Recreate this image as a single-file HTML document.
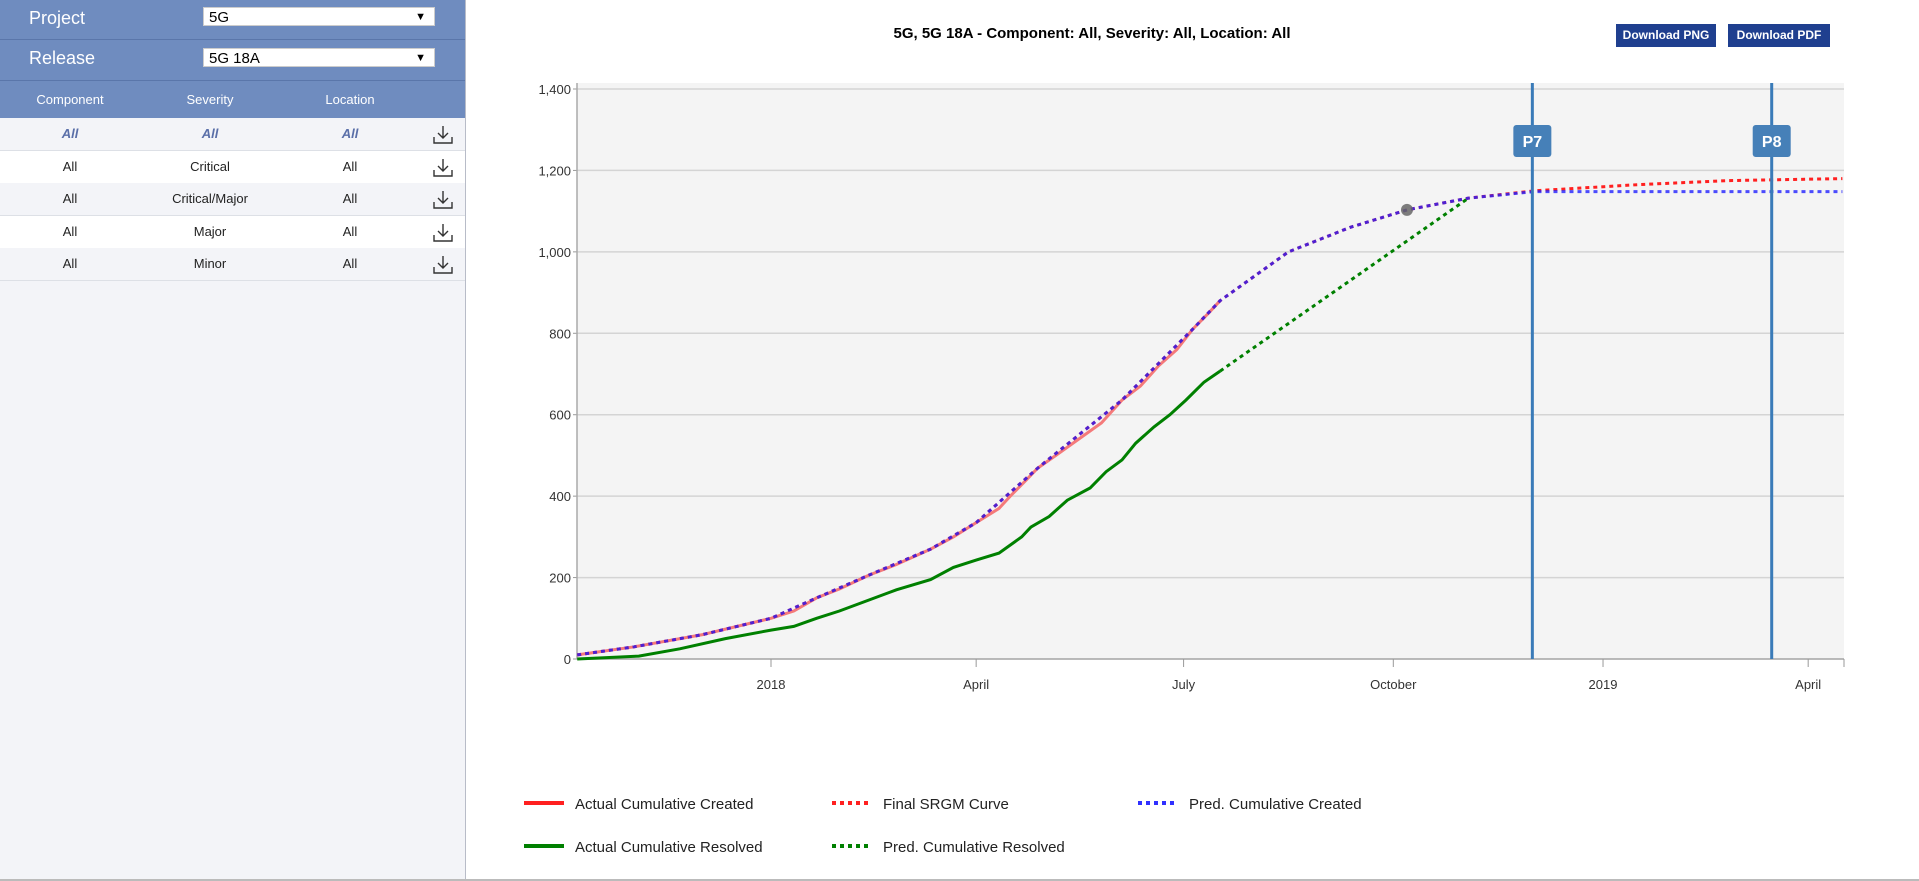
<!DOCTYPE html>
<html><head><meta charset="utf-8"><style>
body{margin:0;width:1919px;height:881px;overflow:hidden;background:#fff;font-family:"Liberation Sans",sans-serif;position:relative}
#side{position:absolute;left:0;top:0;width:465px;height:879px;background:#f3f4f8;border-right:1px solid #b8bcc8}
.hrow{position:absolute;left:0;width:465px;background:#6f8cbf;color:#fff}
.lbl{position:absolute;left:29px;font-size:18px}
.sel{position:absolute;left:203px;height:19px;background:#fff;border:1px solid #ccc;color:#000;font-size:15px;line-height:19px;padding-left:5px;box-sizing:border-box;width:232px}
.sel span{position:absolute;right:8px;top:0;font-size:11px}
.row{position:absolute;left:0;width:465px;height:32px;border-bottom:1px solid #dde0e6;font-size:13px;color:#222}
.c{position:absolute;top:0;line-height:32px;text-align:center;width:140px}
.ic{position:absolute;left:432px;top:7px}
.btn{position:absolute;top:24px;height:23px;background:#1f3f8f;color:#fff;font-size:12px;font-weight:bold;line-height:23px;text-align:center}
</style></head><body>
<div id="side">
 <div class="hrow" style="top:0;height:39px;border-bottom:1px solid #5a76aa">
  <div class="lbl" style="top:8px">Project</div>
  <div class="sel" style="top:7px">5G<span>▼</span></div></div>
 <div class="hrow" style="top:40px;height:40px;border-bottom:1px solid #5a76aa">
  <div class="lbl" style="top:8px">Release</div>
  <div class="sel" style="top:8px">5G 18A<span>▼</span></div></div>
 <div class="hrow" style="top:81px;height:37px;font-size:13px">
  <div class="c" style="left:0;line-height:37px">Component</div>
  <div class="c" style="left:140px;line-height:37px">Severity</div>
  <div class="c" style="left:280px;line-height:37px">Location</div></div>
 <div id="rows"></div>
</div>
<div style="position:absolute;left:0;top:879px;width:1919px;height:2px;background:#bbb"></div>
<div style="position:absolute;left:800px;width:584px;top:25px;text-align:center;font-size:15px;font-weight:bold">5G, 5G 18A - Component: All, Severity: All, Location: All</div>
<div class="btn" style="left:1616px;width:100px">Download PNG</div>
<div class="btn" style="left:1728px;width:102px">Download PDF</div>
<svg id="chart" width="1919" height="881" style="position:absolute;left:0;top:0"></svg>
<script>
const rowsData=[["All","All","All"],["All","Critical","All"],["All","Critical/Major","All"],["All","Major","All"],["All","Minor","All"]];
const rowsEl=document.getElementById('rows');
rowsData.forEach((r,i)=>{const d=document.createElement('div');d.className='row';d.style.top=(118+i*32.5)+'px';d.style.background=i%2?'#fff':'#f3f4f8';


const st=i==0?'font-style:italic;font-weight:bold;color:#5a6fa8;':'';
d.innerHTML=`<div class="c" style="left:0;${st}">${r[0]}</div><div class="c" style="left:140px;${st}">${r[1]}</div><div class="c" style="left:280px;${st}">${r[2]}</div><svg class="ic" width="22" height="20" viewBox="0 0 22 20"><path d="M11 1v12M6 8l5 5 5-5M2 12v6h18v-6" fill="none" stroke="#333" stroke-width="1.4"/></svg>`;
rowsEl.appendChild(d);});

// data: days since 2018-01-01, values
const createdDays=[-85,-60,-30,0,10,20,30,43,55,70,80,90,100,105,112,117,125,135,145,154,162,170,178,185,192,197];
const createdVals=[10,30,60,100,118,150,172,206,232,270,300,335,370,400,440,469,500,540,580,636,670,720,760,810,850,880];
const resolvedDays=[-85,-58,-40,-20,0,10,20,30,43,55,70,80,90,100,110,114,122,130,140,147,154,160,168,175,182,190,197];
const resolvedVals=[0,7,25,50,71,80,100,118,145,170,195,225,243,260,300,324,350,390,420,460,489,530,570,600,636,680,707];
const srgmDays=[-85,-60,-30,0,20,43,70,90,117,154,185,197,227,254,279,306,335,380,420,470];
const srgmVals=[10,30,60,100,150,206,270,335,469,636,810,880,1000,1060,1103,1132,1150,1165,1175,1180];
const predCreatedDays=[-85,-60,-30,0,20,43,70,90,117,154,185,197,227,254,279,306,335,380,420,470];
const predCreatedVals=[10,30,60,100,150,206,270,335,469,636,810,880,1000,1060,1103,1132,1148,1148,1148,1148];
const predResolvedDays=[197,306];
const predResolvedVals=[707,1132];
const markerDay=279, markerVal=1103;
const yTicks=[0,200,400,600,800,1000,1200,1400];
const yTickLabels=["0","200","400","600","800","1,000","1,200","1,400"];
const xTickDays=[0,90,181,273,365,455];
const xTickLabels=["2018","April","July","October","2019","April"];
const phaseDays=[334,439];
const phaseLabels=["P7","P8"];

const L=577,R=1844,T=83,B=659;
const X=d=>771+d*2.2795;
const Y=v=>659-v*(570/1400);
const svg=document.getElementById('chart');const NS='http://www.w3.org/2000/svg';
function mk(t,a,name,parent){const e=document.createElementNS(NS,t);for(const k in a)e.setAttribute(k,a[k]);


(parent||svg).appendChild(e);return e;}
mk('rect',{x:L,y:T,width:R-L,height:B-T,fill:'#f4f4f4'},'plot-area');
yTicks.forEach((v,i)=>{mk('line',{x1:L,x2:R,y1:Y(v),y2:Y(v),stroke:'#d4d4d4','stroke-width':1.5},'gridline');
mk('line',{x1:L-4,x2:L,y1:Y(v),y2:Y(v),stroke:'#999'},'y-tick');
const t=mk('text',{x:L-6,y:Y(v)+5,'text-anchor':'end','font-size':13,fill:'#333'},'y-tick-label');t.textContent=yTickLabels[i];});
mk('line',{x1:L,x2:L,y1:T,y2:B,stroke:'#aaa','stroke-width':1.5},'y-axis');
mk('line',{x1:L,x2:R,y1:B,y2:B,stroke:'#aaa','stroke-width':1.5},'x-axis');
xTickDays.forEach((d,i)=>{mk('line',{x1:X(d),x2:X(d),y1:B,y2:B+8,stroke:'#999'},'x-tick');
const t=mk('text',{x:X(d),y:B+30,'text-anchor':'middle','font-size':13,fill:'#333'},'x-tick-label');t.textContent=xTickLabels[i];});
mk('line',{x1:R,x2:R,y1:B,y2:B+8,stroke:'#999'},'x-tick-end');
function line(ds,vs,attrs,name){const p=ds.map((d,i)=>(i?'L':'M')+X(d).toFixed(1)+','+Y(vs[i]).toFixed(1)).join('');
return mk('path',Object.assign({d:p,fill:'none'},attrs),name);}
line(createdDays,createdVals,{stroke:'#f47a7a','stroke-width':3},'actual-created-line');
line(resolvedDays,resolvedVals,{stroke:'#008000','stroke-width':3},'actual-resolved-line');
line(predResolvedDays,predResolvedVals,{stroke:'#008000','stroke-width':3,'stroke-dasharray':'4 4'},'pred-resolved-line');
line(srgmDays,srgmVals,{stroke:'#ff2020','stroke-width':3,'stroke-dasharray':'4 4'},'srgm-line');
line(predCreatedDays,predCreatedVals,{stroke:'#2020ff','stroke-width':3,'stroke-dasharray':'4 4','stroke-opacity':0.8},'pred-created-line');
mk('circle',{cx:X(markerDay),cy:Y(markerVal),r:6,fill:'#666','fill-opacity':0.85},'current-marker');
phaseDays.forEach((d,i)=>{mk('line',{x1:X(d),x2:X(d),y1:T,y2:B,stroke:'#3a7bb8','stroke-width':3},'phase-line-'+phaseLabels[i]);
mk('rect',{x:X(d)-19,y:125,width:38,height:32,rx:3,fill:'#4680b8'},'phase-badge-'+phaseLabels[i]);
const t=mk('text',{x:X(d),y:147,'text-anchor':'middle','font-size':16,'font-weight':'bold',fill:'#fff'},'phase-label');t.textContent=phaseLabels[i];});
const legend=[["Actual Cumulative Created",'#ff2020','',524,803],["Final SRGM Curve",'#ff2020','4 4',832,803],["Pred. Cumulative Created",'#3030ff','4 4',1138,803],["Actual Cumulative Resolved",'#008000','',524,846],["Pred. Cumulative Resolved",'#008000','4 4',832,846]];
legend.forEach(l=>{mk('line',{x1:l[3],x2:l[3]+40,y1:l[4],y2:l[4],stroke:l[1],'stroke-width':4,'stroke-dasharray':l[2]||'none'},'legend-swatch');
const t=mk('text',{x:l[3]+51,y:l[4]+6,'font-size':15,fill:'#222'},'legend-entry');t.textContent=l[0];});
</script>
</body></html>
